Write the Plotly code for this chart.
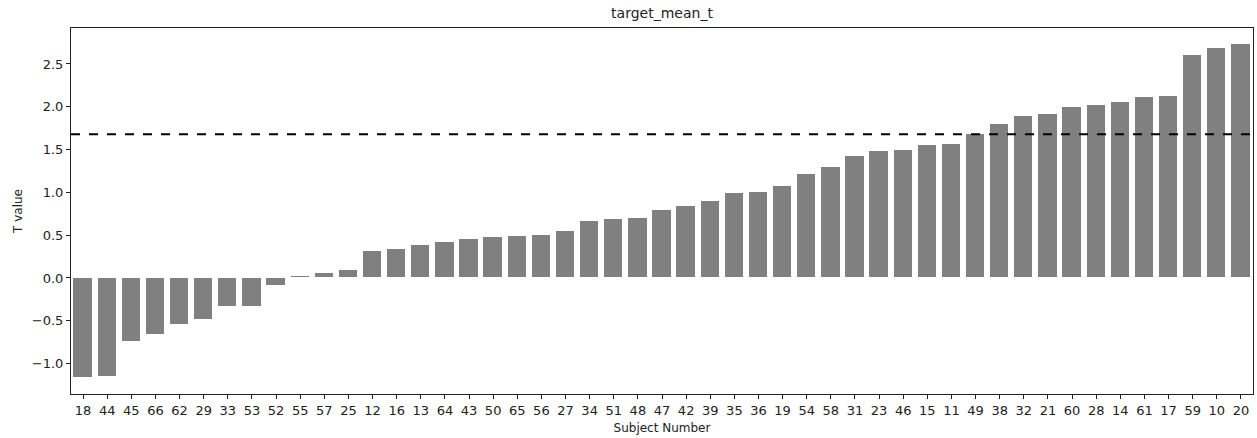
import plotly.graph_objects as go

subjects = ["18", "44", "45", "66", "62", "29", "33", "53", "52", "55", "57", "25",
            "12", "16", "13", "64", "43", "50", "65", "56", "27", "34", "51", "48",
            "47", "42", "39", "35", "36", "19", "54", "58", "31", "23", "46", "15",
            "11", "49", "38", "32", "21", "60", "28", "14", "61", "17", "59", "10", "20"]
t_values = [-1.17, -1.16, -0.75, -0.66, -0.55, -0.49, -0.34, -0.34, -0.09, 0.02, 0.06, 0.09,
            0.32, 0.34, 0.39, 0.42, 0.46, 0.48, 0.49, 0.50, 0.55, 0.67, 0.69, 0.70,
            0.80, 0.84, 0.90, 0.99, 1.00, 1.08, 1.22, 1.30, 1.42, 1.48, 1.50, 1.55,
            1.57, 1.68, 1.80, 1.89, 1.92, 2.00, 2.02, 2.05, 2.11, 2.12, 2.61, 2.69, 2.73]
threshold = 1.68
y_ticks = [-1.0, -0.5, 0.0, 0.5, 1.0, 1.5, 2.0, 2.5]
y_tick_text = ["\u22121.0", "\u22120.5", "0.0", "0.5", "1.0", "1.5", "2.0", "2.5"]

x_pos = list(range(len(subjects)))

font_family = "DejaVu Sans"
fig = go.Figure()
fig.add_trace(go.Bar(
    x=x_pos, y=t_values, width=0.8,
    marker=dict(color="#808080", line=dict(color="white", width=1)),
    showlegend=False,
))
fig.add_shape(type="line", xref="paper", x0=0, x1=1, yref="y", y0=threshold, y1=threshold,
              line=dict(color="black", width=2, dash="dash"))

fig.update_layout(
    width=1257, height=438,
    margin=dict(l=71, r=4, t=28, b=44),
    paper_bgcolor="white", plot_bgcolor="white",
    font=dict(family=font_family, size=13, color="#222222"),
    title=dict(text="target_mean_t", x=0.5, xref="paper", xanchor="center",
               y=1, yref="container", yanchor="top", pad=dict(t=8),
               font=dict(size=14, color="#222222")),
    bargap=0,
)
fig.update_xaxes(
    range=[-0.5, 48.5], tickmode="array", tickvals=x_pos, ticktext=subjects,
    ticks="outside", ticklen=4, tickcolor="#222222", showgrid=False, zeroline=False,
    showline=True, linecolor="#222222", linewidth=1, mirror=True,
    title=dict(text="Subject Number", standoff=7, font=dict(size=12)),
    tickfont=dict(size=13),
)
fig.update_yaxes(
    range=[-1.355, 2.92], tickmode="array", tickvals=y_ticks, ticktext=y_tick_text,
    ticks="outside", ticklen=4, tickcolor="#222222", showgrid=False, zeroline=False,
    showline=True, linecolor="#222222", linewidth=1, mirror=True,
    title=dict(text="T value", standoff=6, font=dict(size=12)),
    tickfont=dict(size=13),
)

fig.write_html("out.html")
